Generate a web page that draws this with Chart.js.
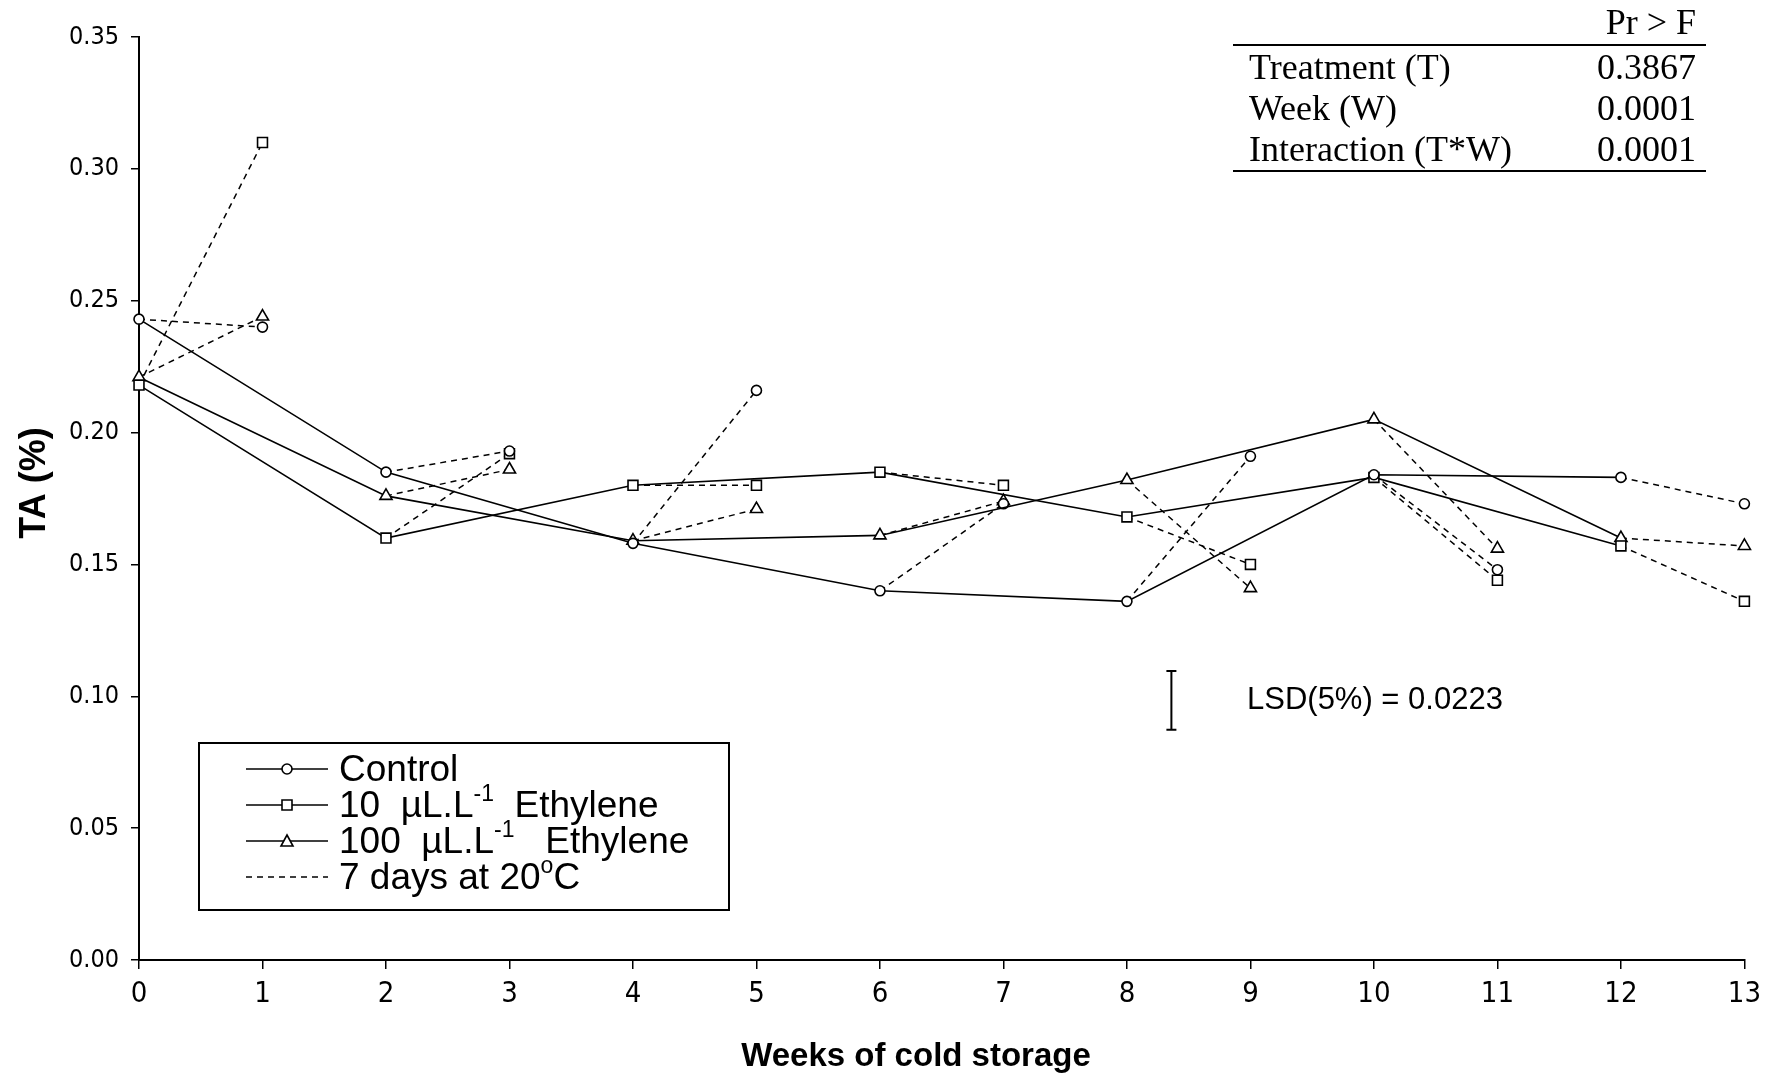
<!DOCTYPE html>
<html>
<head>
<meta charset="utf-8">
<title>TA during cold storage</title>
<script src="https://cdn.jsdelivr.net/npm/chart.js"></script>
<style>
  html, body { margin: 0; padding: 0; background: #fff; }
  #wrap { width: 1769px; height: 1075px; }
</style>
</head>
<body>
<div id="wrap"><canvas id="chart" width="1769" height="1075"></canvas></div>
<script>
// weeks at -0.5 °C, and the weeks read after 7 days shelf life at 20 °C
const weeksCold = [0, 2, 4, 6, 8, 10, 12];
const weeksShelf = [1, 3, 5, 7, 9, 11, 13];
const xTicks = [0, 1, 2, 3, 4, 5, 6, 7, 8, 9, 10, 11, 12, 13];
const yTicks = [0, 0.05, 0.10, 0.15, 0.20, 0.25, 0.30, 0.35];

// titratable acidity (%)
const control = [0.243, 0.185, 0.158, 0.140, 0.136, 0.184, 0.183];
const controlShelf = [0.240, 0.193, 0.216, 0.173, 0.191, 0.148, 0.173];
const eth10 = [0.218, 0.160, 0.180, 0.185, 0.168, 0.183, 0.157];
const eth10Shelf = [0.310, 0.192, 0.180, 0.180, 0.150, 0.144, 0.136];
const eth100 = [0.221, 0.176, 0.159, 0.161, 0.182, 0.205, 0.160];
const eth100Shelf = [0.244, 0.186, 0.171, 0.174, 0.141, 0.156, 0.157];

// LSD bar
const lsdValue = 0.0223;
const lsdBase = 0.0873;
const lsdWeek = 8.36;

// anova table
const anovaTerms = ["Treatment (T)", "Week (W)", "Interaction (T*W)"];
const anovaP = ["0.3867", "0.0001", "0.0001"];

const sans = "'Liberation Sans', Arial, sans-serif";
const narrow = "'Liberation Sans Narrow', 'Arial Narrow', 'DejaVu Sans Condensed', sans-serif";
const serif = "'Liberation Serif', 'Times New Roman', serif";

function coldLine(vals, style, r) {
  return {
    data: weeksCold.map((w, i) => ({ x: w, y: vals[i] })),
    borderColor: "#000",
    borderWidth: 1.6,
    pointStyle: style,
    pointRadius: r,
    pointBorderWidth: 1.6,
    pointBorderColor: "#000",
    pointBackgroundColor: "#fff",
    tension: 0,
    clip: false,
    order: 1
  };
}

function shelfLine(cold, vals, style, r) {
  let pts = [];
  weeksCold.forEach((w, i) => {
    pts.push({ x: w, y: cold[i] });
    pts.push({ x: weeksShelf[i], y: vals[i] });
    pts.push({ x: weeksShelf[i], y: null });
  });
  return {
    data: pts,
    borderColor: "#000",
    borderWidth: 1.5,
    borderDash: [6, 5],
    pointStyle: style,
    pointRadius: c => (c.raw && c.raw.y !== null && c.raw.x % 2 === 1) ? r : 0,
    pointBorderWidth: 1.6,
    pointBorderColor: "#000",
    pointBackgroundColor: "#fff",
    spanGaps: false,
    tension: 0,
    clip: false,
    order: 2
  };
}

function marker(ctx, style, cx, cy) {
  ctx.beginPath();
  if (style === "circle") {
    ctx.arc(cx, cy, 5, 0, Math.PI * 2);
  } else if (style === "rect") {
    ctx.rect(cx - 5, cy - 5, 10, 10);
  } else {
    ctx.moveTo(cx, cy - 6);
    ctx.lineTo(cx + 6, cy + 5);
    ctx.lineTo(cx - 6, cy + 5);
    ctx.closePath();
  }
  ctx.fillStyle = "#fff";
  ctx.fill();
  ctx.stroke();
}

// text with superscript parts
function richText(ctx, parts, x, y, size) {
  parts.forEach(p => {
    if (p.sup) {
      ctx.font = Math.round(size * 0.62) + "px " + sans;
      ctx.fillText(p.t, x, y - size * 0.42);
    } else {
      ctx.font = size + "px " + sans;
      ctx.fillText(p.t, x, y);
    }
    x += ctx.measureText(p.t).width;
  });
}

const legendRows = [
  { style: "circle", dash: false, parts: [{ t: "Control" }] },
  { style: "rect", dash: false, parts: [{ t: "10  \u00b5L.L" }, { t: "-1", sup: true }, { t: "  Ethylene" }] },
  { style: "triangle", dash: false, parts: [{ t: "100  \u00b5L.L" }, { t: "-1", sup: true }, { t: "   Ethylene" }] },
  { style: null, dash: true, parts: [{ t: "7 days at 20" }, { t: "o", sup: true }, { t: "C" }] }
];

const extras = {
  id: "extras",
  afterDraw(chart) {
    const ctx = chart.ctx;
    const x = chart.scales.x, y = chart.scales.y;
    ctx.save();
    ctx.fillStyle = "#000";
    ctx.strokeStyle = "#000";

    // axis titles
    ctx.font = "bold 36px " + sans;
    ctx.textAlign = "center";
    ctx.textBaseline = "middle";
    ctx.save();
    ctx.translate(35, 483);
    ctx.rotate(-Math.PI / 2);
    ctx.fillText("TA (%)", 0, 0);
    ctx.restore();
    ctx.font = "bold 33px " + sans;
    ctx.fillText("Weeks of cold storage", 916, 1057);

    // LSD bar and label
    const lx = x.getPixelForValue(lsdWeek);
    const ly0 = y.getPixelForValue(lsdBase);
    const ly1 = y.getPixelForValue(lsdBase + lsdValue);
    ctx.lineWidth = 2;
    ctx.beginPath();
    ctx.moveTo(lx, ly0); ctx.lineTo(lx, ly1);
    ctx.moveTo(lx - 5, ly0); ctx.lineTo(lx + 5, ly0);
    ctx.moveTo(lx - 5, ly1); ctx.lineTo(lx + 5, ly1);
    ctx.stroke();
    ctx.fillStyle = "#000";
    ctx.textAlign = "left";
    ctx.font = "31px " + sans;
    ctx.fillText("LSD(5%) = " + lsdValue.toFixed(4), 1247, (ly0 + ly1) / 2);

    // legend
    ctx.lineWidth = 2;
    ctx.strokeRect(199, 743, 530, 167);
    ctx.textBaseline = "alphabetic";
    legendRows.forEach((row, i) => {
      const base = 781 + i * 36;
      const ly = base - 12;
      ctx.lineWidth = 1.6;
      ctx.setLineDash(row.dash ? [6, 5] : []);
      ctx.beginPath();
      ctx.moveTo(246, ly); ctx.lineTo(328, ly);
      ctx.stroke();
      ctx.setLineDash([]);
      if (row.style) marker(ctx, row.style, 287, ly);
      ctx.fillStyle = "#000";
      richText(ctx, row.parts, 339, base, 37);
    });

    // anova table
    ctx.font = "36px " + serif;
    ctx.textAlign = "right";
    ctx.fillText("Pr > F", 1696, 34);
    ctx.lineWidth = 2;
    ctx.beginPath();
    ctx.moveTo(1233, 45); ctx.lineTo(1706, 45);
    ctx.moveTo(1233, 171); ctx.lineTo(1706, 171);
    ctx.stroke();
    anovaTerms.forEach((t, i) => {
      const base = 79 + i * 41;
      ctx.textAlign = "left";
      ctx.fillText(t, 1249, base);
      ctx.textAlign = "right";
      ctx.fillText(anovaP[i], 1696, base);
    });
    ctx.restore();
  }
};

new Chart(document.getElementById("chart"), {
  type: "line",
  data: {
    datasets: [
      shelfLine(control, controlShelf, "circle", 5),
      shelfLine(eth10, eth10Shelf, "rect", 7),
      shelfLine(eth100, eth100Shelf, "triangle", 7),
      coldLine(control, "circle", 5),
      coldLine(eth10, "rect", 7),
      coldLine(eth100, "triangle", 7)
    ]
  },
  options: {
    responsive: false,
    animation: false,
    devicePixelRatio: 1,
    layout: { padding: { top: 37, right: 24, left: 0, bottom: 0 } },
    plugins: { legend: { display: false }, tooltip: { enabled: false } },
    scales: {
      x: {
        type: "linear",
        min: 0,
        max: 13,
        afterBuildTicks: s => { s.ticks = xTicks.map(v => ({ value: v })); },
        afterFit: s => { s.height = 115; },
        ticks: { color: "#000", font: { family: narrow, size: 29 }, padding: 8, maxRotation: 0, autoSkip: false },
        grid: { drawOnChartArea: false, color: "#000", lineWidth: 1.5, tickLength: 9 },
        border: { color: "#000", width: 2 }
      },
      y: {
        min: 0,
        max: 0.35,
        afterBuildTicks: s => { s.ticks = yTicks.map(v => ({ value: v })); },
        afterFit: s => { s.width = 139; },
        ticks: { color: "#000", font: { family: narrow, size: 25 }, padding: 12, callback: v => v.toFixed(2) },
        grid: { drawOnChartArea: false, color: "#000", lineWidth: 1.5, tickLength: 8 },
        border: { color: "#000", width: 2 }
      }
    }
  },
  plugins: [extras]
});
</script>
</body>
</html>
